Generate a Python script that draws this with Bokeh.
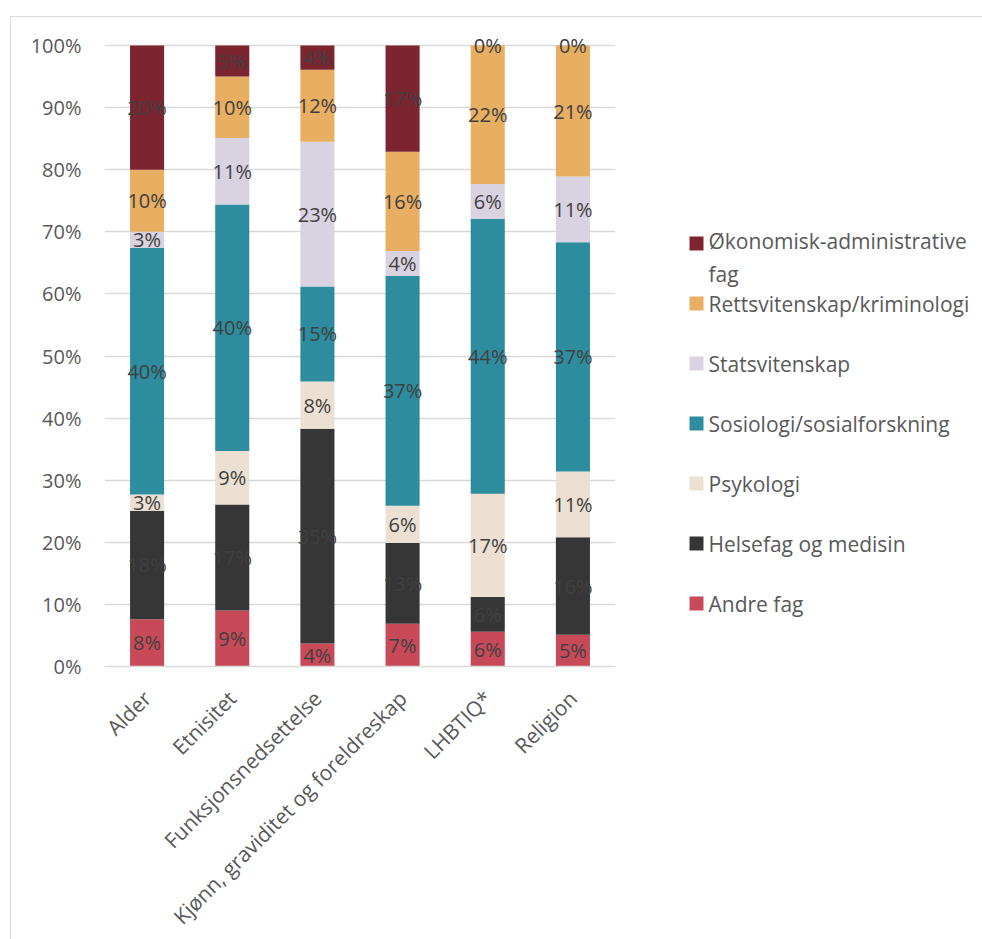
import math
from bokeh.plotting import figure
from bokeh.layouts import row, column
from bokeh.models import Range1d, FactorRange, ColumnDataSource, PrintfTickFormatter, FixedTicker, Spacer
from bokeh.core.properties import value
from bokeh.embed import file_html
from bokeh.resources import INLINE

# ---- data ----
categories = ["Alder", "Etnisitet", "Funksjonsnedsettelse",
              "Kjønn, graviditet og foreldreskap", "LHBTIQ*", "Religion"]
series_names = ["Andre fag", "Helsefag og medisin", "Psykologi",
                "Sosiologi/sosialforskning", "Statsvitenskap",
                "Rettsvitenskap/kriminologi", "Økonomisk-administrative fag"]
andre_fag = [7.6, 9.0, 3.7, 6.9, 5.6, 5.1]
helsefag = [17.5, 17.1, 34.6, 13.0, 5.6, 15.7]
psykologi = [2.6, 8.6, 7.6, 6.0, 16.6, 10.6]
sosiologi = [39.7, 39.7, 15.3, 37.0, 44.3, 36.9]
statsvitenskap = [2.6, 10.7, 23.3, 4.0, 5.6, 10.6]
rettsvitenskap = [10.0, 9.9, 11.6, 16.0, 22.3, 21.1]
okonomisk = [20.0, 5.0, 3.9, 17.1, 0.0, 0.0]
y_ticks = [0, 10, 20, 30, 40, 50, 60, 70, 80, 90, 100]
legend_labels = ["Økonomisk-administrative\nfag", "Rettsvitenskap/kriminologi",
                 "Statsvitenskap", "Sosiologi/sosialforskning", "Psykologi",
                 "Helsefag og medisin", "Andre fag"]

colors = ["#C84A58", "#363636", "#EBE0D1", "#2D8C9E", "#D9D2E0", "#E8AE62", "#7C2530"]
keys = ["andre", "helse", "psyk", "sosio", "stats", "retts", "okon"]
all_series = [andre_fag, helsefag, psykologi, sosiologi, statsvitenskap, rettsvitenskap, okonomisk]

FONT = "Open Sans"
FS = "20px"
FS_TXT = "21px"
data = {"cat": categories}
for k, s in zip(keys, all_series):
    data[k] = s
source = ColumnDataSource(data)

# 0..100 % spans 621 px; the frame extends a bit above 100 % so top labels are not clipped
FW, H100 = 511, 621
EXTRA = 19
FH = H100 + EXTRA
BT, BB = 28 - EXTRA, 270
p = figure(x_range=FactorRange(*categories, range_padding=0),
           y_range=Range1d(0, 100 * FH / H100),
           frame_width=FW, frame_height=FH,
           min_border_left=93, min_border_top=BT, min_border_right=10, min_border_bottom=BB,
           output_backend="svg", toolbar_location=None)
p.vbar_stack(keys, x="cat", width=0.4, color=colors, source=source, line_width=0)

# data labels
lx, ly, lt = [], [], []
for i, c in enumerate(categories):
    base = 0.0
    for s in all_series:
        v = s[i]
        lx.append(c)
        ly.append(base + v / 2)
        lt.append(f"{v:.0f}%")
        base += v
p.text(x=lx, y=ly, text=lt, text_align="center", text_baseline="middle",
       text_font=value(FONT), text_font_size=FS, text_color="#404040")

p.outline_line_color = None
p.xgrid.grid_line_color = None
p.ygrid.grid_line_color = "#D9D9D9"
p.ygrid.grid_line_width = 1.3
p.yaxis.ticker = FixedTicker(ticks=y_ticks)
p.yaxis.formatter = PrintfTickFormatter(format="%d%%")
p.yaxis.axis_line_color = None
p.yaxis.major_tick_line_color = None
p.yaxis.minor_tick_line_color = None
p.yaxis.major_tick_out = 0
p.yaxis.major_label_standoff = 23
p.yaxis.major_label_text_font_size = FS
p.xaxis.axis_line_color = "#D9D9D9"
p.xaxis.axis_line_width = 1.3
p.xaxis.major_tick_line_color = None
p.xaxis.minor_tick_line_color = None
p.xaxis.major_tick_out = 0
p.xaxis.major_label_standoff = 28
p.xaxis.major_label_orientation = math.pi / 4
p.xaxis.major_label_text_font_size = FS_TXT
for ax in (p.xaxis, p.yaxis):
    ax.major_label_text_font = FONT
    ax.major_label_text_color = "#595959"

# legend panel as its own figure; coordinates are pixels inside its frame,
# whose frame is aligned with the main chart's frame
LW = 357
leg = figure(frame_width=LW, frame_height=FH, x_range=Range1d(0, LW), y_range=Range1d(FH, 0),
             min_border_left=0, min_border_right=0, min_border_top=BT, min_border_bottom=BB,
             output_backend="svg", toolbar_location=None)
leg.axis.visible = False
leg.grid.visible = False
leg.outline_line_color = None
leg_colors = list(reversed(colors))
ys = [EXTRA + 198 + 60 * i for i in range(len(legend_labels))]
leg.rect(x=[71] * len(ys), y=ys, width=14, height=14, color=leg_colors, line_width=0)
pitch = 28
ty = [y + (lab.count("\n")) * pitch / 2 for y, lab in zip(ys, legend_labels)]
leg.text(x=[83] * len(ys), y=ty, text=legend_labels, text_baseline="middle",
         text_font=value(FONT), text_font_size=FS_TXT, text_color="#595959",
         text_line_height=1.15)

box = row(p, leg, styles={"border-left": "1px solid #D9D9D9",
                          "border-top": "1px solid #D9D9D9"})
layout = column(Spacer(height=16, width=10), row(Spacer(width=10, height=10), box))

open("out.html", "w").write(file_html(layout, INLINE))
